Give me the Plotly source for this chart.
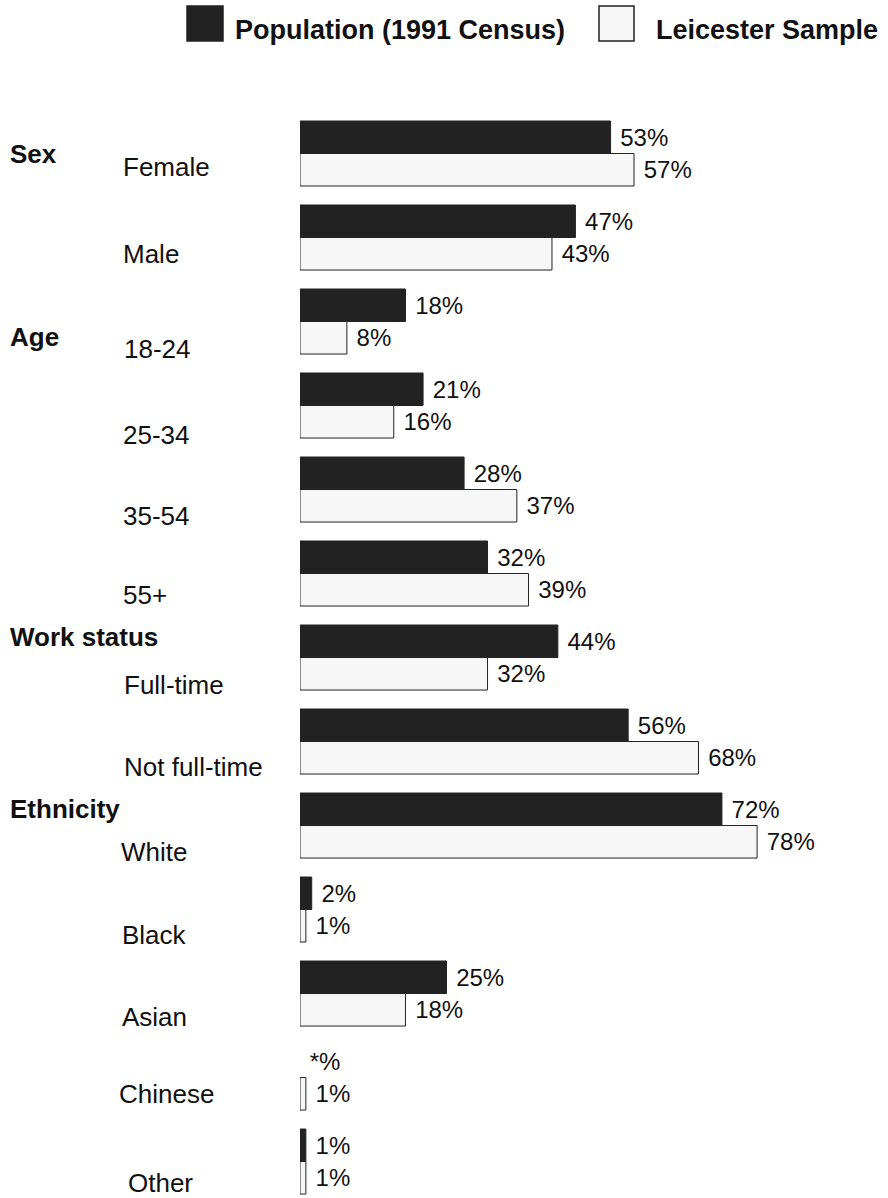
import plotly.graph_objects as go

# ---- data ----
categories = ["Female", "Male", "18-24", "25-34", "35-54", "55+",
              "Full-time", "Not full-time", "White", "Black", "Asian",
              "Chinese", "Other"]
population = [53, 47, 18, 21, 28, 32, 44, 56, 72, 2, 25, 0, 1]
population_labels = ["53%", "47%", "18%", "21%", "28%", "32%", "44%", "56%",
                     "72%", "2%", "25%", "*%", "1%"]
sample = [57, 43, 8, 16, 37, 39, 32, 68, 78, 1, 18, 1, 1]
sample_labels = [f"{v}%" for v in sample]
groups = ["Sex", "Age", "Work status", "Ethnicity"]
group_first = ["Female", "18-24", "Full-time", "White"]
series_names = ["Population (1991 Census)", "Leicester Sample"]

# ---- style / layout ----
W, H = 888, 1198
ML, MR, MT, MB = 300, 2, 111, 0
PW = W - ML - MR
DARK = "#222222"
LIGHT = "#f7f7f7"
EDGE = "#222222"
FONT = "Liberation Sans, Arial, sans-serif"

# pixel offsets (down) of the category labels from the bar-pair centre
label_dy = [13, 16.5, 27, 29.5, 26, 21, 27.5, 25.5, 26, 25, 23, 16, 21]
label_x = [121, 121, 122, 121, 121, 121, 122, 122, 119, 120, 120, 117, 126]
group_dy = [0, 15, -21, -17]


def px_x(px):
    return (px - ML) / PW


def px_y(py):
    return 1 - (py - MT) / (H - MT - MB)


fig = go.Figure()
fig.add_trace(go.Bar(
    y=categories, x=population, orientation="h", name=series_names[0],
    marker=dict(color=DARK,
                line=dict(color=EDGE,
                          width=[1 if v > 0 else 0 for v in population])),
    text=population_labels, texttemplate=" %{text}", textposition="outside",
    textfont=dict(size=24, color="#111111", family=FONT),
    cliponaxis=False, constraintext="none",
))
fig.add_trace(go.Bar(
    y=categories, x=sample, orientation="h", name=series_names[1],
    marker=dict(color=LIGHT, line=dict(color=EDGE, width=1)),
    text=sample_labels, texttemplate=" %{text}", textposition="outside",
    textfont=dict(size=24, color="#111111", family=FONT),
    cliponaxis=False, constraintext="none",
))

annotations = []
for cat, dy, lx in zip(categories, label_dy, label_x):
    annotations.append(dict(
        xref="paper", yref="y", x=px_x(lx), y=cat, yshift=-dy,
        xanchor="left", yanchor="middle", showarrow=False, text=cat,
        font=dict(size=26, color="#111111", family=FONT)))
for g, first, dy in zip(groups, group_first, group_dy):
    annotations.append(dict(
        xref="paper", yref="y", x=px_x(8), y=first, yshift=-dy,
        xanchor="left", yanchor="middle", showarrow=False,
        text=f"<b>{g}</b>",
        font=dict(size=26, color="#111111", family=FONT)))

# legend (drawn manually: large swatches)
legend_items = [(187, 223, DARK, 233, series_names[0]),
                (599, 634, LIGHT, 654, series_names[1])]
shapes = []
for x0, x1, col, tx, name in legend_items:
    shapes.append(dict(type="rect", xref="paper", yref="paper",
                       x0=px_x(x0), x1=px_x(x1), y0=px_y(41), y1=px_y(6),
                       fillcolor=col, line=dict(color=EDGE, width=1.5)))
    annotations.append(dict(
        xref="paper", yref="paper", x=px_x(tx), y=px_y(30), xanchor="left",
        yanchor="middle", showarrow=False, text=f"<b>{name}</b>",
        font=dict(size=27, color="#111111", family=FONT)))

fig.update_layout(
    width=W, height=H,
    margin=dict(l=ML, r=MR, t=MT, b=MB, pad=0),
    paper_bgcolor="white", plot_bgcolor="white",
    barmode="group", bargap=0.226, bargroupgap=0,
    showlegend=False,
    font=dict(family=FONT),
    annotations=annotations, shapes=shapes,
    xaxis=dict(range=[0, 100], visible=False, fixedrange=True),
    yaxis=dict(range=[12.434, -0.506], visible=False, type="category",
               fixedrange=True),
)

fig.write_html("out.html")
